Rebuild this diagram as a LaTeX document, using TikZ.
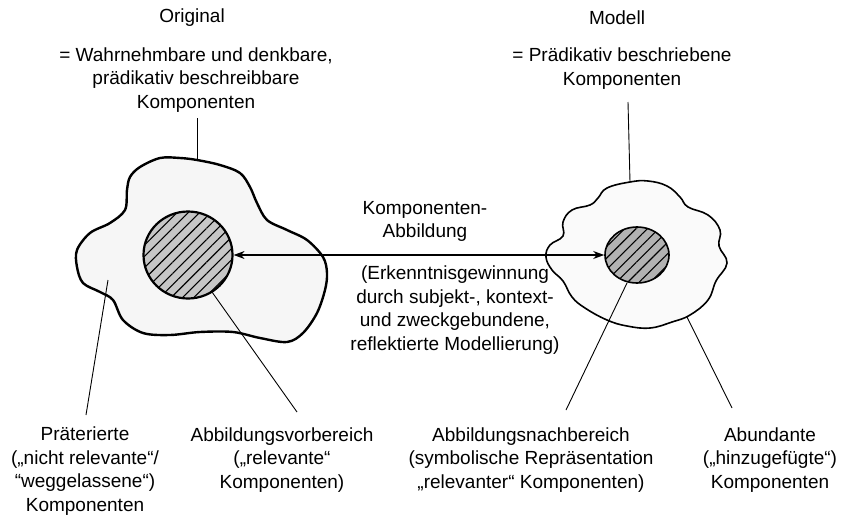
\documentclass[tikz,border=0pt]{standalone}
\usepackage{fontspec}
\setmainfont{Liberation Sans}
\usetikzlibrary{arrows.meta,patterns.meta,shapes.geometric}
\begin{document}
\begin{tikzpicture}[x=1pt,y=-1pt,
  every node/.style={inner sep=0pt, align=center, font=\fontsize{19}{23.5}\selectfont},
  blobline/.style={draw=black, line join=round},
  core/.style={draw=black, line width=2pt, preaction={fill=#1},
    pattern={Lines[angle=45,distance=8pt,line width=1.1pt]}, pattern color=black},
  pointer/.style={draw=black, line width=0.9pt},
  link/.style={draw=black, line width=1.3pt, {Stealth[length=11pt,width=8pt]}-{Stealth[length=11pt,width=8pt]}}
]
\useasboundingbox (0,0) rectangle (843,514);

% headings and definitions
\node (orig) at (192,18) {Original};
\node (origdef) at (196,80) {= Wahrnehmbare und denkbare,\\prädikativ beschreibbare\\Komponenten};
\node (mod) at (617,18) {Modell};
\node (moddef) at (622,68.5) {= Prädikativ beschriebene\\Komponenten};

% original: irregular outline
\path[blobline, line width=2.4pt, fill=gray!7] plot[smooth cycle, tension=0.55] coordinates {
  (197,160) (220,165) (240,173) (250,187) (257,203) (267,220) (287,230)
  (307,240) (323,257) (327,273) (325,290) (317,313) (303,333) (287,342)
  (260,338) (233,332) (200,332) (170,335) (143,333) (123,320) (113,300)
  (100,292) (83,283) (77,267) (77,250) (90,233) (110,223) (125,210)
  (127,190) (130,177) (140,167) (160,158) (180,158)};
\coordinate (origtop) at (197,160);

% model: wavy outline
\path[blobline, line width=1.6pt, fill=gray!4] plot[smooth cycle, tension=0.7] coordinates {
  (630,182) (648,181) (667,186) (680,197) (688,207) (708,215) (720,230)
  (719,246) (727,263) (716,281) (708,300) (690,315) (672,322) (650,328)
  (627,326) (607,320) (585,308) (572,297) (563,281) (552,270) (546,257)
  (550,245) (563,236) (563,222) (572,210) (590,205) (598,198) (607,188)};
\coordinate (modtop) at (630,182);

% hatched core regions
\node[core=gray!45, ellipse, minimum width=89pt, minimum height=87pt, line width=2.2pt] (lc) at (188,255) {};
\node[core=gray!60, ellipse, minimum width=64pt, minimum height=56pt, line width=1.6pt] (rc) at (637,255) {};

% component mapping
\draw[link] (lc.east) -- (rc.west);
\node (abb) at (425,221.5) {Komponenten-\\Abbildung};
\node (erk) at (455,310) {(Erkenntnisgewinnung\\durch subjekt-, kontext-\\und zweckgebundene,\\reflektierte Modellierung)};

% bottom labels
\node (praet) at (85,471) {Präterierte\\(„nicht relevante“/\\“weggelassene“)\\Komponenten};
\node (vor) at (282,460) {Abbildungsvorbereich\\(„relevante“\\Komponenten)};
\node (nach) at (531,460) {Abbildungsnachbereich\\(symbolische Repräsentation\\„relevanter“ Komponenten)};
\node (abund) at (770,460) {Abundante\\(„hinzugefügte“)\\Komponenten};

% pointer lines
\coordinate (praetA) at (108,280);
\coordinate (praetB) at (86,415);
\coordinate (vorA) at (212,292);
\coordinate (vorB) at (297,412);
\coordinate (nachA) at (627,283);
\coordinate (nachB) at (566,410);
\coordinate (abundA) at (687,317);
\coordinate (abundB) at (732,408);
\coordinate (origlead) at (197,118);
\coordinate (modlead) at (628,102);

\draw[pointer] (origlead) -- (origtop);
\draw[pointer] (modlead) -- (modtop);
\draw[pointer] (praetA) -- (praetB);
\draw[pointer] (vorA) -- (vorB);
\draw[pointer] (nachA) -- (nachB);
\draw[pointer] (abundA) -- (abundB);
\end{tikzpicture}
\end{document}
